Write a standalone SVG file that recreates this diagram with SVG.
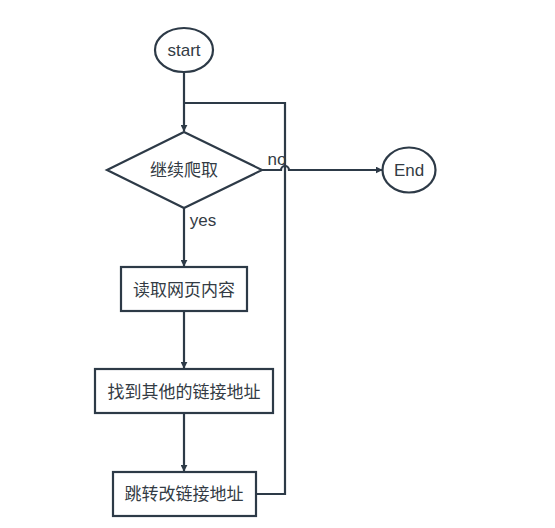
<svg xmlns="http://www.w3.org/2000/svg" width="555" height="528" viewBox="0 0 555 528">
<defs>
<style>
.s{fill:#ffffff;stroke:#2d3a47;stroke-width:2.2}
.c{fill:none;stroke:#2d3a47;stroke-width:2.2}
.t{font-family:"Liberation Sans","Noto Sans CJK SC",sans-serif;font-size:17px;fill:#333b44;text-anchor:middle;dominant-baseline:central}
</style>
<marker id="a" viewBox="0 0 10 10" refX="9" refY="5" markerWidth="7" markerHeight="7" orient="auto" markerUnits="userSpaceOnUse">
<path d="M0,0 L10,5 L0,10 z" fill="#2d3a47"/>
</marker>
</defs>
<rect width="555" height="528" fill="#ffffff"/>
<g id="connectors">
<path class="c" d="M184,72 V131" marker-end="url(#a)"/>
<path class="c" d="M184,103 H285 V494 H256"/>
<path class="c" d="M262,170 H281 A4,4 0 0 1 289,170 H382" marker-end="url(#a)"/>
<path class="c" d="M184,208 V266" marker-end="url(#a)"/>
<path class="c" d="M184,311 V368" marker-end="url(#a)"/>
<path class="c" d="M184,413 V471" marker-end="url(#a)"/>
<text class="t" x="277" y="159">no</text>
<text class="t" x="203" y="220">yes</text>
</g>
<g id="start">
<ellipse class="s" cx="184" cy="50" rx="29" ry="22"/>
<text class="t" x="184" y="50">start</text>
</g>
<g id="decision">
<polygon class="s" points="184,132 262,170 184,208 107,170"/>
<text class="t" x="184" y="170">继续爬取</text>
</g>
<g id="end">
<ellipse class="s" cx="409" cy="170" rx="26.5" ry="22.5"/>
<text class="t" x="409" y="170">End</text>
</g>
<g id="read">
<rect class="s" x="121" y="267" width="126" height="44"/>
<text class="t" x="184" y="290">读取网页内容</text>
</g>
<g id="find">
<rect class="s" x="95" y="369" width="178" height="44"/>
<text class="t" x="184" y="392">找到其他的链接地址</text>
</g>
<g id="jump">
<rect class="s" x="113" y="472" width="143" height="44"/>
<text class="t" x="184" y="494">跳转改链接地址</text>
</g>
</svg>
